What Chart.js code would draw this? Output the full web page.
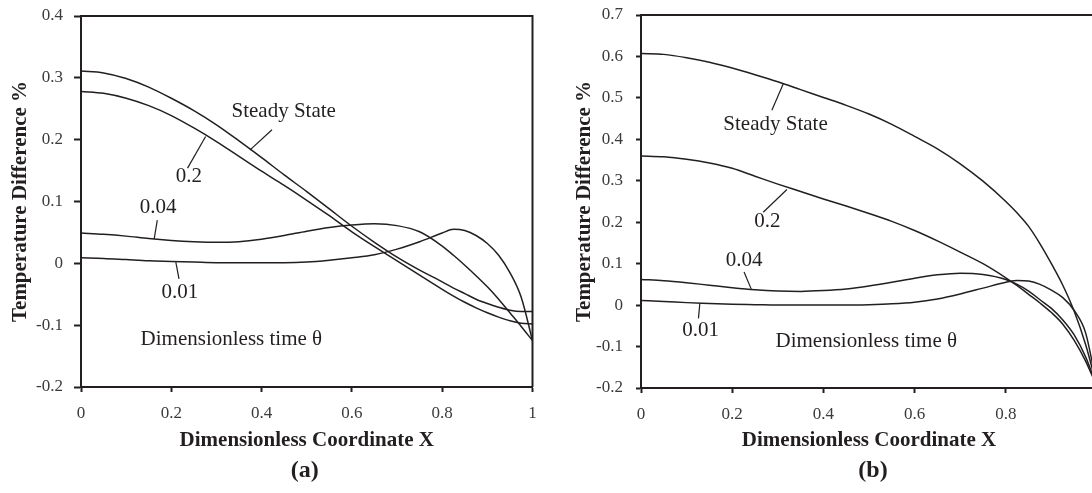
<!DOCTYPE html>
<html>
<head>
<meta charset="utf-8">
<script src="https://cdn.jsdelivr.net/npm/chart.js@4.4.1/dist/chart.umd.min.js"></script>
<style>
  html, body { margin: 0; padding: 0; background: #fff; overflow: hidden; }
  #wrap { position: relative; width: 1092px; height: 493px; overflow: hidden; background: #fff; }
  #panelA { position: absolute; left: 0; top: 0; }
  #panelB { position: absolute; left: 546px; top: 0; }
</style>
</head>
<body>
<div id="wrap">
  <canvas id="panelA" width="546" height="493"></canvas>
  <canvas id="panelB" width="560" height="493"></canvas>
</div>
<script>
// Sample positions along the dimensionless coordinate X
const X = [0, 0.05, 0.1, 0.15, 0.2, 0.25, 0.3, 0.35, 0.4, 0.45, 0.5, 0.55, 0.6, 0.65,
           0.7, 0.75, 0.8, 0.825, 0.85, 0.875, 0.9, 0.925, 0.95, 0.975, 1];

// Panel (a): temperature difference (%) for each dimensionless time
const steadyA = [0.311, 0.308, 0.299, 0.285, 0.267, 0.247, 0.224, 0.198, 0.171, 0.143, 0.116, 0.088,
                 0.060, 0.034, 0.010, -0.011, -0.030, -0.040, -0.049, -0.058, -0.065, -0.071, -0.076, -0.078, -0.078];
const t02A    = [0.278, 0.275, 0.267, 0.255, 0.239, 0.219, 0.197, 0.173, 0.149, 0.126, 0.102, 0.077,
                 0.051, 0.027, 0.004, -0.019, -0.042, -0.053, -0.063, -0.072, -0.080, -0.087, -0.093, -0.097, -0.098];
const t004A   = [0.049, 0.047, 0.044, 0.040, 0.037, 0.035, 0.034, 0.035, 0.039, 0.045, 0.052, 0.058,
                 0.062, 0.064, 0.061, 0.051, 0.028, 0.013, -0.003, -0.020, -0.038, -0.058, -0.080, -0.102, -0.125];
const t001A   = [0.009, 0.008, 0.006, 0.004, 0.003, 0.002, 0.001, 0.001, 0.001, 0.001, 0.002, 0.005,
                 0.009, 0.014, 0.023, 0.035, 0.049, 0.055, 0.053, 0.045, 0.032, 0.013, -0.015, -0.055, -0.125];

// Panel (b): temperature difference (%) for each dimensionless time
const steadyB = [0.607, 0.605, 0.597, 0.586, 0.572, 0.556, 0.539, 0.520, 0.501, 0.482, 0.461, 0.436,
                 0.407, 0.377, 0.341, 0.299, 0.250, 0.222, 0.190, 0.148, 0.100, 0.048, -0.015, -0.095, -0.197];
const t02B    = [0.360, 0.358, 0.352, 0.343, 0.330, 0.311, 0.292, 0.274, 0.256, 0.239, 0.221, 0.202,
                 0.180, 0.155, 0.128, 0.100, 0.066, 0.047, 0.026, 0.005, -0.018, -0.046, -0.085, -0.135, -0.197];
const t004B   = [0.062, 0.059, 0.054, 0.048, 0.042, 0.037, 0.034, 0.033, 0.035, 0.039, 0.046, 0.055,
                 0.065, 0.073, 0.077, 0.074, 0.062, 0.050, 0.034, 0.013, -0.008, -0.036, -0.072, -0.125, -0.197];
const t001B   = [0.011, 0.009, 0.006, 0.004, 0.002, 0.001, 0.000, 0.000, 0.000, 0.000, 0.001, 0.003,
                 0.007, 0.015, 0.027, 0.041, 0.055, 0.0595, 0.058, 0.050, 0.036, 0.018, -0.013, -0.067, -0.197];

// Curve names (dimensionless time θ)
const seriesNames = ['Steady State', '0.2', '0.04', '0.01'];

// Tick values and labels
const xTicks = [0, 0.2, 0.4, 0.6, 0.8, 1];
const xTickLabels = ['0', '0.2', '0.4', '0.6', '0.8', '1'];
const yTicksA = [-0.2, -0.1, 0, 0.1, 0.2, 0.3, 0.4];
const yTickLabelsA = ['-0.2', '-0.1', '0', '0.1', '0.2', '0.3', '0.4'];
const yTicksB = [-0.2, -0.1, 0, 0.1, 0.2, 0.3, 0.4, 0.5, 0.6, 0.7];
const yTickLabelsB = ['-0.2', '-0.1', '0', '0.1', '0.2', '0.3', '0.4', '0.5', '0.6', '0.7'];

const INK = '#231f20';
const TICK_INK = '#3c3a3b';
const SERIF = "'Liberation Serif', 'Times New Roman', serif";

// Curve labels with short leader lines, placed in data units
const notesA = [
  { text: seriesNames[0], at: [0.449, 0.246], leader: [0.423, 0.216, 0.374, 0.183] },
  { text: seriesNames[1], at: [0.239, 0.141], leader: [0.236, 0.154, 0.276, 0.205] },
  { text: seriesNames[2], at: [0.171, 0.090], leader: [0.169, 0.070, 0.162, 0.039] },
  { text: seriesNames[3], at: [0.219, -0.047], leader: [0.210, 0.002, 0.217, -0.025] },
  { text: 'Dimensionless time θ', at: [0.333, -0.123] }
];
const notesB = [
  { text: seriesNames[0], at: [0.295, 0.436], leader: [0.287, 0.470, 0.312, 0.534] },
  { text: seriesNames[1], at: [0.277, 0.201], leader: [0.268, 0.224, 0.320, 0.279] },
  { text: seriesNames[2], at: [0.226, 0.107], leader: [0.226, 0.080, 0.242, 0.038] },
  { text: seriesNames[3], at: [0.131, -0.062], leader: [0.129, 0.004, 0.126, -0.032] },
  { text: 'Dimensionless time θ', at: [0.494, -0.088] }
];

function pairs(xs, ys) { return xs.map((x, i) => ({ x: x, y: ys[i] })); }

// Draws curve labels, the top/right frame and the panel letter
const notesPlugin = {
  id: 'notes',
  afterDatasetsDraw(chart, args, opts) {
    const ctx = chart.ctx;
    const xs = chart.scales.x, ys = chart.scales.y;
    const area = chart.chartArea;
    ctx.save();
    ctx.fillStyle = INK;
    ctx.strokeStyle = INK;
    ctx.lineWidth = 2;
    ctx.beginPath();
    ctx.moveTo(area.left, area.top);
    ctx.lineTo(area.right, area.top);
    ctx.lineTo(area.right, area.bottom);
    ctx.stroke();
    ctx.lineWidth = 1.2;
    ctx.font = '21px ' + SERIF;
    ctx.textAlign = 'center';
    ctx.textBaseline = 'middle';
    for (const n of opts.notes) {
      if (n.leader) {
        ctx.beginPath();
        ctx.moveTo(xs.getPixelForValue(n.leader[0]), ys.getPixelForValue(n.leader[1]));
        ctx.lineTo(xs.getPixelForValue(n.leader[2]), ys.getPixelForValue(n.leader[3]));
        ctx.stroke();
      }
      ctx.fillText(n.text, xs.getPixelForValue(n.at[0]), ys.getPixelForValue(n.at[1]));
    }
    ctx.font = 'bold 24px ' + SERIF;
    ctx.fillText(opts.letter, (area.left + area.right) / 2 + opts.letterDx, opts.letterY);
    ctx.restore();
  }
};

function makePanel(canvasId, cfg) {
  const datasets = cfg.series.map((ys, i) => ({
    label: seriesNames[i],
    data: pairs(X, ys),
    borderColor: INK,
    borderWidth: 1.5,
    pointRadius: 0,
    fill: false,
    cubicInterpolationMode: 'monotone'
  }));
  return new Chart(document.getElementById(canvasId), {
    type: 'line',
    data: { datasets: datasets },
    plugins: [notesPlugin],
    options: {
      responsive: false,
      animation: false,
      devicePixelRatio: 1,
      events: [],
      layout: { padding: cfg.padding, autoPadding: false },
      plugins: {
        legend: { display: false },
        tooltip: { enabled: false },
        notes: { notes: cfg.notes, letter: cfg.letter, letterDx: cfg.letterDx, letterY: 471 }
      },
      scales: {
        x: {
          type: 'linear', min: 0, max: 1,
          afterBuildTicks: s => { s.ticks = xTicks.map(v => ({ value: v })); },
          afterFit: s => { s.height = cfg.xAxisHeight; s.paddingLeft = 0; s.paddingRight = 0; },
          ticks: {
            callback: (v, i) => xTickLabels[i],
            font: { family: SERIF, size: 17 }, color: TICK_INK, padding: 11, maxRotation: 0
          },
          grid: { display: true, drawOnChartArea: false, drawTicks: true, tickLength: 5,
                  tickWidth: 2, color: INK, tickColor: INK },
          border: { display: true, width: 2, color: INK },
          title: { display: true, text: 'Dimensionless Coordinate X',
                   font: { family: SERIF, size: 21, weight: 'bold' }, color: INK,
                   padding: { top: 0, bottom: 40 } }
        },
        y: {
          type: 'linear', min: cfg.yMin, max: cfg.yMax,
          afterBuildTicks: s => { s.ticks = cfg.yTicks.map(v => ({ value: v })); },
          afterFit: s => { s.width = cfg.yAxisWidth; s.paddingTop = 0; s.paddingBottom = 0; },
          ticks: {
            callback: (v, i) => cfg.yLabels[i],
            font: { family: SERIF, size: 17 }, color: TICK_INK, padding: cfg.yTickPad
          },
          grid: { display: true, drawOnChartArea: false, drawTicks: true, tickLength: cfg.yTickLen,
                  tickWidth: 2, color: INK, tickColor: INK },
          border: { display: true, width: 2, color: INK },
          title: { display: true, text: 'Temperature Difference %',
                   font: { family: SERIF, size: 21, weight: 'bold' }, color: INK,
                   padding: { top: cfg.yTitlePad, bottom: 0 } }
        }
      }
    }
  });
}

makePanel('panelA', {
  series: [steadyA, t02A, t004A, t001A],
  yMin: -0.2, yMax: 0.4, yTicks: yTicksA, yLabels: yTickLabelsA,
  padding: { left: 0, top: 16, right: 13.5, bottom: 0 },
  yAxisWidth: 81, xAxisHeight: 106, yTickLen: 7, yTickPad: 11, yTitlePad: 8,
  notes: notesA, letter: '(a)', letterDx: -2
});

makePanel('panelB', {
  series: [steadyB, t02B, t004B, t001B],
  yMin: -0.2, yMax: 0.7, yTicks: yTicksB, yLabels: yTickLabelsB,
  padding: { left: 0, top: 15, right: 9, bottom: 0 },
  yAxisWidth: 95, xAxisHeight: 105, yTickLen: 5, yTickPad: 13, yTitlePad: 26,
  notes: notesB, letter: '(b)', letterDx: 4
});
</script>
</body>
</html>
